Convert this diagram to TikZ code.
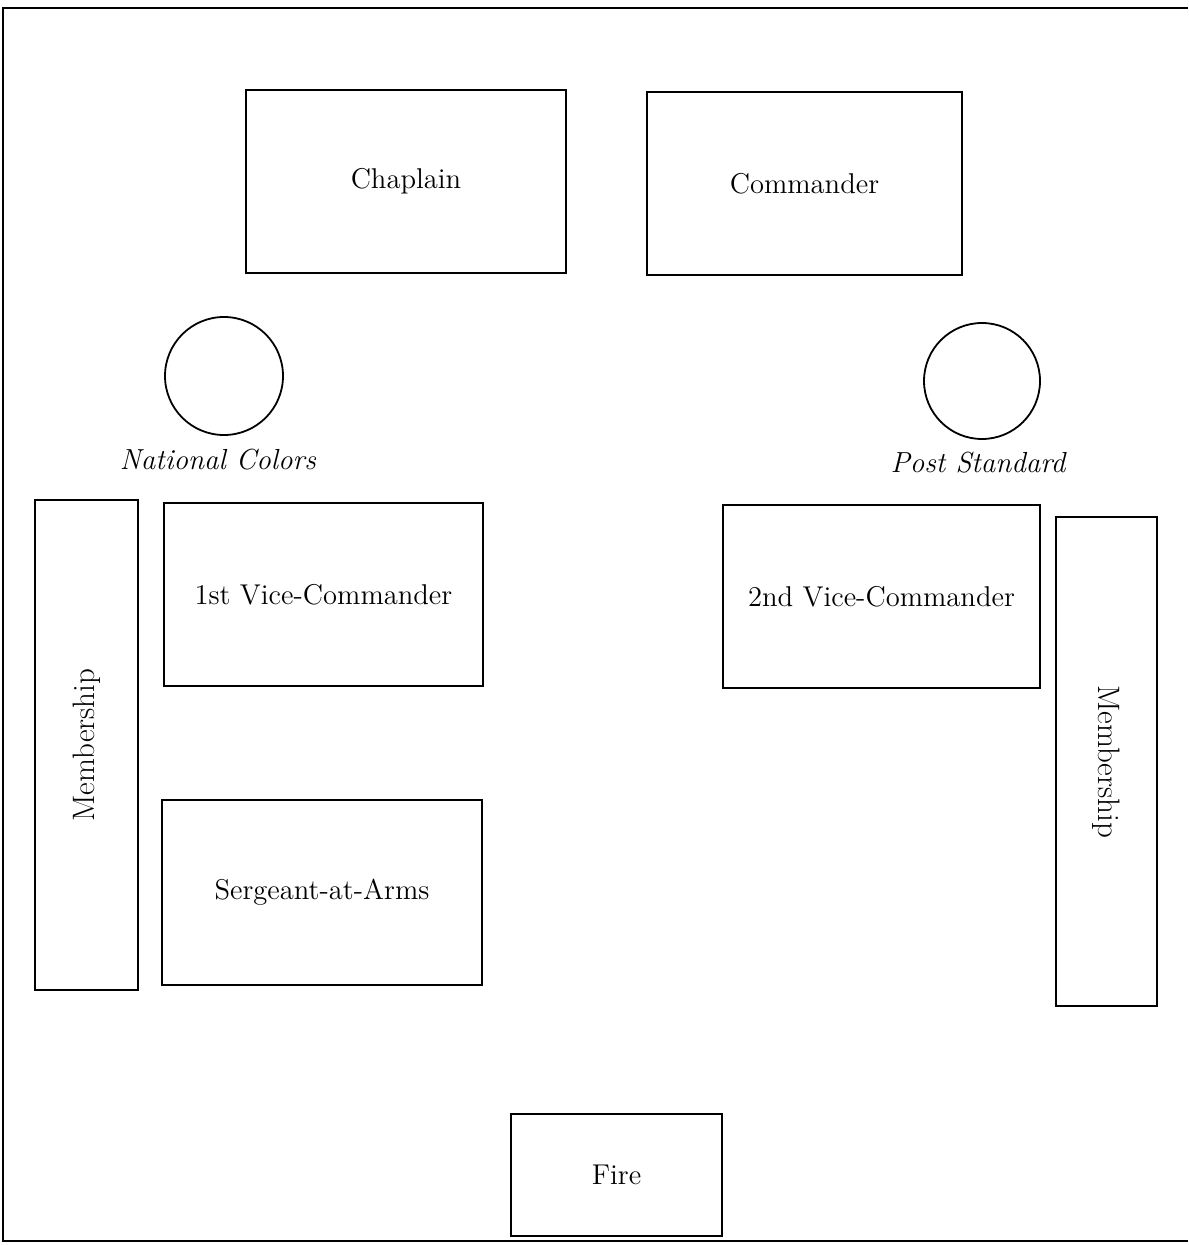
\documentclass[tikz,border=0pt]{standalone}
\usepackage{tikz}

\begin{document}
\begin{tikzpicture}[x=0.5pt,y=-0.5pt,
    seat/.style={draw, line width=0.9pt, rectangle, inner sep=0pt, font=\fontsize{14.3}{17}\selectfont},
    flag/.style={draw, line width=0.9pt, circle, inner sep=0pt},
    flagname/.style={font=\fontsize{14.5}{17}\selectfont\itshape}]
    \useasboundingbox (0,0) rectangle (1188,1245);
    \draw[line width=1.2pt] (1188,8) -- (3,8) -- (3,1241) -- (1188,1241);

    \node[seat, minimum width=160pt, minimum height=91.5pt] at (406,181.5)   (chaplain)  {Chaplain};
    \node[seat, minimum width=157.5pt, minimum height=91.5pt] at (804.5,183.5) (commander) {Commander};

    \node[flag, minimum size=59pt] at (224,376)  (colors)   {};
    \node[flag, minimum size=58pt] at (982,381)  (standard) {};
    \node[flagname] at (218,460) (colorsname)   {National Colors};
    \node[flagname] at (978,463) (standardname) {Post Standard};

    \node[seat, rotate=90, minimum width=245pt, minimum height=51.5pt, font=\fontsize{15.5}{18}\selectfont] at (86.5,745) (memleft) {Membership};
    \node[seat, rotate=-90, minimum width=244.5pt, minimum height=50.5pt, font=\fontsize{15.5}{18}\selectfont] at (1106.5,761.5) (memright) {Membership};

    \node[seat, minimum width=159.5pt, minimum height=91.5pt] at (323.5,594.5) (vice1)    {1st Vice-Commander};
    \node[seat, minimum width=158.5pt, minimum height=91.5pt] at (881.5,596.5) (vice2)    {2nd Vice-Commander};
    \node[seat, minimum width=160pt, minimum height=92.5pt]   at (322,892.5)   (sergeant) {Sergeant-at-Arms};
    \node[seat, minimum width=105.5pt, minimum height=61pt]   at (616.5,1175)  (fire)     {Fire};
\end{tikzpicture}
\end{document}
